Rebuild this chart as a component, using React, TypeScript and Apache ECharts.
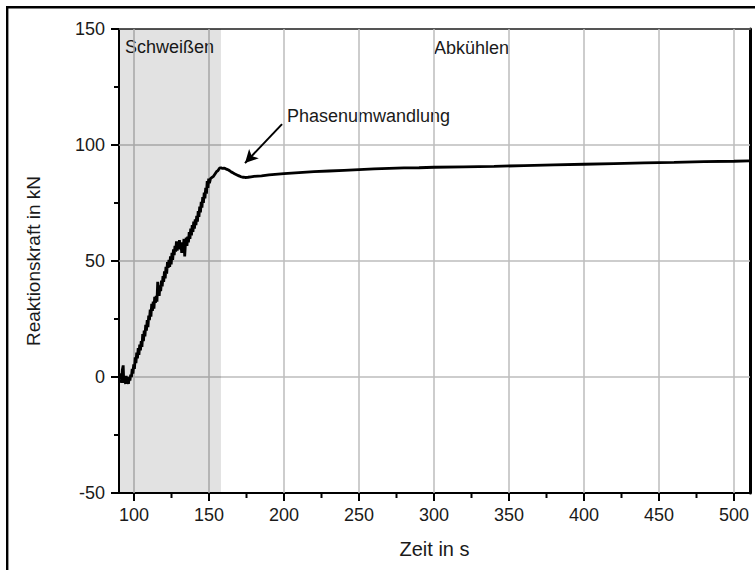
import React, { useEffect, useRef } from "react";
import * as echarts from "echarts";

// Measured curve: welding phase (noisy rise) and cooling phase
const timeWelding = [
  90.7, 91.2, 91.7, 92.2, 92.8, 93.2, 93.8, 94.3, 94.8, 95.3, 95.8, 96.3, 96.8, 97.3, 97.8, 98.3, 98.8, 99.3, 99.8,
  100.3, 100.8, 101.3, 101.8, 102.3, 102.8, 103.3, 103.8, 104.3, 104.8, 105.3, 105.8, 106.3, 106.8, 107.3, 107.8,
  108.3, 108.8, 109.3, 109.8, 110.3, 110.8, 111.3, 111.8, 112.3, 112.8, 113.3, 113.8, 114.3, 114.8, 115.3, 115.8,
  116.3, 116.8, 117.3, 117.8, 118.3, 118.8, 119.3, 119.8, 120.3, 120.8, 121.3, 121.8, 122.3, 122.8, 123.3, 123.8,
  124.3, 124.8, 125.3, 125.8, 126.3, 126.8, 127.3, 127.8, 128.3, 128.8, 129.3, 129.8, 130.3, 130.8, 131.3, 131.8,
  132.3, 132.8, 133.3, 133.8, 134.3, 134.8, 135.3, 135.8, 136.3, 136.8, 137.3, 137.8, 138.3, 138.8, 139.3, 139.8,
  140.3, 140.8, 141.3, 141.8, 142.3, 142.8, 143.3, 143.8, 144.3, 144.8, 145.3, 145.8, 146.3, 146.8, 147.3, 147.8,
  148.3, 148.8, 149.3, 149.8, 150.3, 151, 152, 153, 154, 155, 156, 157,
];
const forceWelding = [
  -1, 1.5, -2.5, 3, 5, -2.5, -1, -3, 0.5, -2.5, -1, -3, 0, -1.5, 1, 0, 3.5, 1.5, 5.5,
  3.5, 8.5, 6, 10.5, 8, 12.5, 9.5, 14, 11.5, 15.5, 13, 18.5, 15.5, 20, 17.5, 22.5,
  20, 24.5, 21.5, 26.5, 24.5, 29, 26, 31.5, 28.5, 32.5, 29.5, 34.5, 32, 35, 32.5, 41,
  36.5, 35, 39.5, 37, 41.5, 39, 43.5, 41, 45.5, 42.5, 47.5, 44.5, 49.5, 47, 50.5, 47.5,
  52, 48.5, 53.5, 50.5, 55, 52.5, 56.5, 54, 58.5, 54.5, 58, 55.5, 59, 55, 57.5, 53.5,
  58, 54.5, 59.5, 52, 57.5, 60, 56.5, 60.5, 58, 62.5, 59.5, 64, 61, 65.5, 62.5, 67,
  64, 68, 65.5, 69.5, 67, 71.5, 69, 73.5, 71, 75.5, 73, 77.5, 75, 79.5, 77, 81.5,
  79, 84.5, 81.5, 85.5, 83.5, 85.5, 86, 86.5, 87.5, 88.5, 89, 90,
];
const timeCooling = [
  158, 159, 160, 161, 162, 163, 164, 165, 166, 167, 168, 169, 170, 171, 172, 173, 174, 176, 178, 180, 185, 190,
  200, 210, 220, 230, 240, 250, 260, 270, 280, 290, 300, 320, 340, 360, 380, 400, 420, 440, 460, 480, 500, 510,
];
const forceCooling = [
  90.2, 89.9, 90, 89.8, 89.5, 89.2, 88.8, 88.3, 88, 87.6, 87.3, 87, 86.7, 86.4, 86.2, 86.1, 86, 86.1, 86.3, 86.5, 86.7, 87.1,
  87.7, 88.1, 88.5, 88.8, 89.1, 89.4, 89.7, 89.9, 90.1, 90.2, 90.4, 90.6, 90.8, 91.1, 91.4, 91.7, 92, 92.3, 92.5, 92.8, 93, 93.2,
];

const xMajorTicks = [100, 150, 200, 250, 300, 350, 400, 450, 500];
const xMinorTicks = [125, 175, 225, 275, 325, 375, 425, 475];
const yMajorTicks = [-50, 0, 50, 100, 150];
const yMinorTicks = [-25, 25, 75, 125];
const yGridValues = [0, 50, 100];
const weldingZone = [90, 158];
const arrowFrom = [198.7, 109];
const arrowTo = [174, 92.2];

const X_MIN = 90;
const X_MAX = 510.67;
const Y_MIN = -50;
const Y_MAX = 150;

const FONT = "'Liberation Sans', Arial, Helvetica, sans-serif";
const TXT = "#1a1a1a";
const TICK = "#000";

export default function App() {
  const ref = useRef<HTMLDivElement>(null);
  useEffect(() => {
    if (!ref.current) return;
    const chart = echarts.init(ref.current, undefined, { renderer: "svg" });
    const curve = [
      ...timeWelding.map((t, i) => [t, forceWelding[i]]),
      ...timeCooling.map((t, i) => [t, forceCooling[i]]),
    ];
    const tickSeries = (values: number[], dir: "x" | "y", len: number) => ({
      type: "custom",
      silent: true,
      clip: false,
      z: 10,
      data: values.map((v) => (dir === "x" ? [v, Y_MIN] : [X_MIN, v])),
      renderItem: (_params: any, api: any) => {
        const p = api.coord([api.value(0), api.value(1)]);
        const shape =
          dir === "x"
            ? { x1: p[0], y1: p[1], x2: p[0], y2: p[1] + len }
            : { x1: p[0] - len, y1: p[1], x2: p[0], y2: p[1] };
        return { type: "line", shape, style: { stroke: TICK, lineWidth: 2 } };
      },
    });
    chart.setOption({
      animation: false,
      backgroundColor: "#fff",
      textStyle: { fontFamily: FONT },
      grid: { left: 119, right: 5, top: 29, bottom: 77 },
      xAxis: [
        {
          type: "value",
          min: X_MIN,
          max: X_MAX,
          position: "bottom",
          name: "Zeit in s",
          nameLocation: "middle",
          nameGap: 46,
          nameTextStyle: { fontSize: 20, color: TXT, fontFamily: FONT },
          axisLine: { show: true, onZero: false, lineStyle: { color: "#000", width: 2 } },
          axisTick: { show: false },
          splitLine: { show: false },
          axisLabel: { customValues: xMajorTicks, fontSize: 18, color: TXT, margin: 13, fontFamily: FONT },
        },
        {
          type: "value",
          min: X_MIN,
          max: X_MAX,
          position: "top",
          axisLine: { show: true, onZero: false, lineStyle: { color: "#555", width: 2 } },
          axisTick: { show: false },
          axisLabel: { show: false },
          splitLine: { show: false },
        },
      ],
      yAxis: [
        {
          type: "value",
          min: Y_MIN,
          max: Y_MAX,
          interval: 50,
          position: "left",
          name: "Reaktionskraft in kN",
          nameLocation: "middle",
          nameGap: 76,
          nameTextStyle: { fontSize: 19, color: TXT, fontFamily: FONT },
          axisLine: { show: true, onZero: false, lineStyle: { color: "#000", width: 2 } },
          axisTick: { show: false },
          splitLine: { show: false },
          axisLabel: { fontSize: 18, color: TXT, margin: 14, fontFamily: FONT },
        },
        {
          type: "value",
          min: Y_MIN,
          max: Y_MAX,
          interval: 50,
          position: "right",
          axisLine: { show: true, onZero: false, lineStyle: { color: "#000", width: 3 } },
          axisTick: { show: false },
          axisLabel: { show: false },
          splitLine: { show: false },
        },
      ],
      series: [
        {
          type: "line",
          data: [],
          z: 1,
          silent: true,
          markLine: {
            z: 1,
            silent: true,
            symbol: "none",
            label: { show: false },
            lineStyle: { color: "#bcbcbc", width: 1.5, type: "solid" },
            data: [
              ...xMajorTicks.map((v) => ({ xAxis: v })),
              ...yGridValues.map((v) => ({ yAxis: v })),
            ],
          },
          markArea: {
            z: 2,
            silent: true,
            itemStyle: { color: "rgba(0,0,0,0.115)" },
            data: [[{ xAxis: weldingZone[0] }, { xAxis: weldingZone[1] }]],
          },
        },
        {
          type: "line",
          data: curve,
          z: 3,
          showSymbol: false,
          symbol: "none",
          lineStyle: { color: "#000", width: 2.8 },
        },
        {
          type: "line",
          data: [],
          z: 4,
          silent: true,
          markLine: {
            z: 4,
            silent: true,
            symbol: ["none", "arrow"],
            symbolSize: [10, 13],
            label: { show: false },
            lineStyle: { color: "#000", width: 2, type: "solid" },
            itemStyle: { color: "#000" },
            data: [[{ coord: arrowFrom }, { coord: arrowTo }]],
          },
        },
        tickSeries(xMajorTicks, "x", 8),
        tickSeries(xMinorTicks, "x", 5),
        tickSeries(yMajorTicks, "y", 8),
        tickSeries(yMinorTicks, "y", 5),
      ],
      graphic: [
        {
          type: "polyline",
          z: 100,
          shape: { points: [[7.2, 570], [7.2, 7.2], [755, 7.2]] },
          style: { stroke: "#000", lineWidth: 2.4, fill: null },
        },
        {
          type: "text",
          left: 125,
          top: 38,
          style: { text: "Schweißen", fontSize: 18, fill: TXT, fontFamily: FONT },
        },
        {
          type: "text",
          left: 434,
          top: 39,
          style: { text: "Abkühlen", fontSize: 18, fill: TXT, fontFamily: FONT },
        },
        {
          type: "text",
          left: 287,
          top: 107,
          style: { text: "Phasenumwandlung", fontSize: 18, fill: TXT, fontFamily: FONT },
        },
      ],
    });
    return () => chart.dispose();
  }, []);
  return (
    <div
      ref={ref}
      style={{ position: "absolute", left: 0, top: 0, width: 755, height: 570 }}
    />
  );
}
